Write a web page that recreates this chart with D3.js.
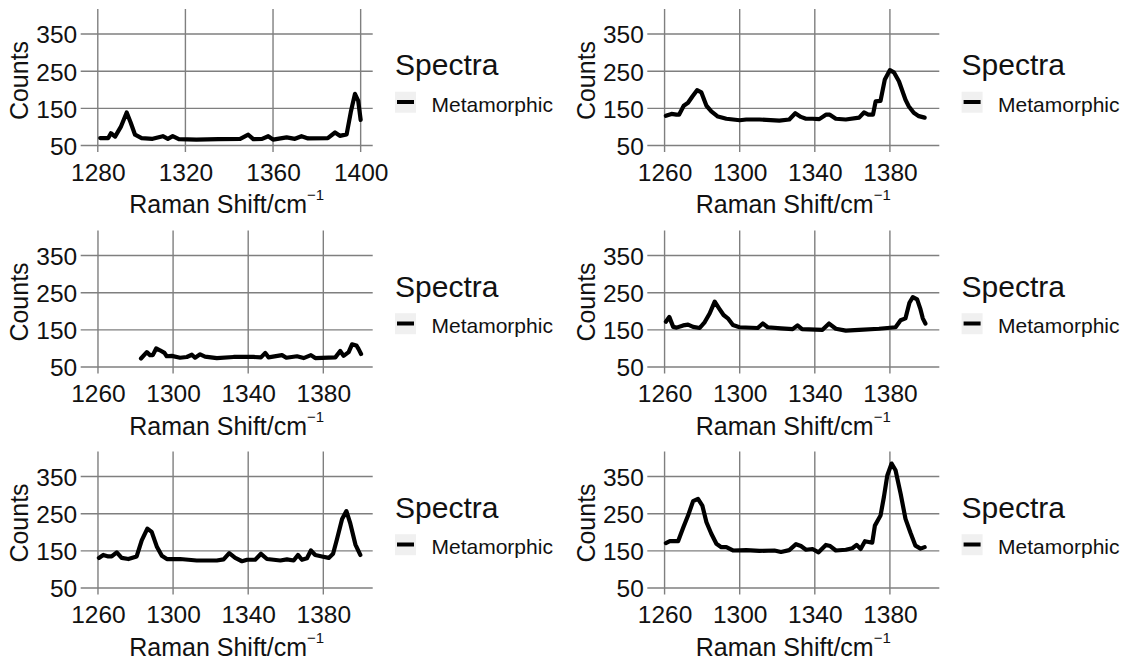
<!DOCTYPE html>
<html>
<head>
<meta charset="utf-8">
<script src="https://cdn.jsdelivr.net/npm/d3@7"></script>
<style>
  html, body { margin: 0; padding: 0; background: #fff; }
  svg { display: block; font-family: "Liberation Sans", Arial, sans-serif; }
</style>
</head>
<body>
<svg id="chart" width="1127" height="659"></svg>
<script>
// Raman spectra, one panel per sample (Raman shift in cm^-1, counts)
const shift1 = [1281.1,1284.8,1286,1287.9,1290.5,1293.2,1295,1297,1300,1305,1309.7,1312,1314.2,1317,1325,1335,1345,1348.7,1351,1355,1357.8,1360,1366.2,1370,1373,1376,1385,1388.3,1390.5,1393.6,1395.5,1397.4,1398.9,1400];
const counts1 = [70,70,83,74,100,139,112,79,70,68,75,68,75,67,66,67,68,79,67,68,75,66,72,68,75,69,70,85,76,80,140,189,170,119];

const shift2 = [1260.7,1263.7,1266.3,1267.7,1270.2,1272.5,1274.8,1277.3,1279.6,1282.3,1284.9,1288.4,1292.9,1300,1303.5,1310.5,1321.1,1326.4,1329.6,1332.6,1335.3,1338.8,1342.4,1345.9,1348,1351.2,1356.5,1363.6,1366.2,1368.5,1371,1372.4,1375,1377.3,1380,1382.1,1384.8,1388.3,1390.1,1392.7,1395.4,1398.5];
const counts2 = [130,135,133,133,157,165,182,199,193,157,142,128,122,118,120,120,117,120,137,127,122,122,121,133,133,122,120,125,139,133,133,169,170,228,253,247,223,173,155,138,129,125];

const shift3 = [1282.9,1286,1287.7,1289.2,1291,1293,1295.4,1296.6,1299.3,1303.7,1307.3,1310,1311.7,1314.4,1317,1323.3,1332.2,1342.8,1346.8,1349.1,1350.8,1358,1360.3,1366,1369.5,1373.4,1375.7,1386.4,1389,1390.8,1393.5,1395.3,1397.6,1398.8,1400.1];
const counts3 = [73,90,82,82,100,95,88,79,80,75,77,83,75,84,78,74,77,77,76,88,76,82,75,79,74,82,74,76,93,80,90,111,108,98,85];

const shift4 = [1260.7,1262.5,1264.6,1266.4,1269.9,1272.5,1275.2,1278.7,1281.4,1284,1286.7,1289,1291.4,1293.7,1296.4,1299.9,1309.6,1312.3,1314.9,1322,1328.2,1330.8,1333.2,1344.1,1347.6,1351.2,1356.5,1363.6,1374.2,1383,1385.7,1388.3,1390.4,1392.2,1394.5,1396.3,1397.5,1398.9];
const counts4 = [172,185,158,156,162,164,158,155,171,194,226,208,190,181,163,157,155,167,157,154,152,162,152,150,167,153,148,150,153,157,176,181,223,238,232,205,181,167];

const shift5 = [1260.5,1262.8,1265.5,1267.3,1270,1272.6,1276.2,1280.6,1283.3,1286.3,1288.6,1291.3,1294,1296.7,1303.7,1312.6,1323.3,1326.9,1329.9,1333.1,1336.7,1339.4,1343.7,1346.8,1350,1357.1,1360.6,1364.2,1366.5,1368.6,1371.3,1373.4,1375.7,1379.3,1382.9,1385.2,1387.3,1390,1392.3,1394.4,1397.1,1399.7];
const counts5 = [131,139,135,135,146,131,128,135,178,210,201,162,137,128,128,124,124,127,144,131,122,126,126,142,128,124,127,124,139,126,130,151,139,135,131,142,182,236,257,223,167,139];

const shift6 = [1260.7,1262.8,1267.2,1269.9,1272.5,1275.2,1277.8,1280.1,1282.3,1284.9,1287.6,1290.2,1292.9,1296.4,1303.5,1310.5,1318.5,1322,1326.4,1330,1332.6,1335.3,1338.8,1342,1345.9,1348.2,1351.2,1356.5,1360,1362.3,1364.4,1366.7,1370.6,1372,1375,1376.8,1378.6,1380.9,1383,1385.7,1388.3,1391,1393.6,1396.3,1398.5];
const counts6 = [171,176,176,212,245,284,290,272,227,196,169,160,160,151,152,150,151,147,152,168,163,153,155,146,166,163,151,153,157,166,155,176,172,218,245,295,353,385,367,304,236,198,164,156,160];

const xTicksFirst = [1280, 1320, 1360, 1400];
const xTicksRest = [1260, 1300, 1340, 1380];
const yTicks = [50, 150, 250, 350];
const legendTitle = "Spectra";
const legendLabel = "Metamorphic";

const panels = [
  { shift: shift1, counts: counts1, xDomain: [1272.2, 1405.5], xTicks: xTicksFirst },
  { shift: shift2, counts: counts2, xDomain: [1250.8, 1406.3], xTicks: xTicksRest },
  { shift: shift3, counts: counts3, xDomain: [1250.8, 1406.3], xTicks: xTicksRest },
  { shift: shift4, counts: counts4, xDomain: [1250.8, 1406.3], xTicks: xTicksRest },
  { shift: shift5, counts: counts5, xDomain: [1250.8, 1406.3], xTicks: xTicksRest },
  { shift: shift6, counts: counts6, xDomain: [1250.8, 1406.3], xTicks: xTicksRest }
];

// layout of the 3 x 2 grid
const colLeft = [80.7, 647.3];
const rowTop = [9, 230.5, 451.5];
const panelW = 292, panelH = 143;
const gridColor = "#7f7f7f";
const textColor = "#111";
const fmt = d3.format("d");

const svg = d3.select("#chart");

panels.forEach((p, i) => {
  const col = i % 2, row = Math.floor(i / 2);
  const left = colLeft[col], top = rowTop[row];
  const g = svg.append("g").attr("transform", `translate(${left},${top})`);

  const x = d3.scaleLinear().domain(p.xDomain).range([0, panelW]);
  const y = d3.scaleLinear().domain([32.5, 417.5]).range([panelH, 0]);

  // major grid
  g.append("g").selectAll("line").data(p.xTicks).join("line")
    .attr("x1", d => x(d)).attr("x2", d => x(d))
    .attr("y1", 0).attr("y2", panelH)
    .attr("stroke", gridColor).attr("stroke-width", 1.4);
  g.append("g").selectAll("line").data(yTicks).join("line")
    .attr("x1", 0).attr("x2", panelW)
    .attr("y1", d => y(d)).attr("y2", d => y(d))
    .attr("stroke", gridColor).attr("stroke-width", 1.4);

  // x axis tick labels
  const xAxis = d3.axisBottom(x).tickValues(p.xTicks).tickFormat(fmt).tickSize(0).tickPadding(0);
  const xa = g.append("g").attr("transform", `translate(0,${panelH})`).call(xAxis);
  xa.select(".domain").remove();
  xa.selectAll("text")
    .attr("y", 28.5).attr("dy", null)
    .attr("font-size", 24.5).attr("fill", textColor)
    .attr("font-family", "Liberation Sans, Arial, sans-serif");

  // y axis tick labels
  const yAxis = d3.axisLeft(y).tickValues(yTicks).tickFormat(fmt).tickSize(0).tickPadding(3.5);
  const ya = g.append("g").call(yAxis);
  ya.select(".domain").remove();
  ya.selectAll("text")
    .attr("dy", "0.36em")
    .attr("font-size", 24.5).attr("fill", textColor)
    .attr("font-family", "Liberation Sans, Arial, sans-serif");

  // spectrum
  const pts = p.shift.map((s, k) => [s, p.counts[k]]);
  g.append("path")
    .attr("d", d3.line().x(d => x(d[0])).y(d => y(d[1]))(pts))
    .attr("fill", "none").attr("stroke", "#000")
    .attr("stroke-width", 4.2)
    .attr("stroke-linejoin", "round").attr("stroke-linecap", "round");

  // axis titles
  const xt = g.append("text")
    .attr("x", panelW / 2).attr("y", 204)
    .attr("text-anchor", "middle")
    .attr("font-size", 25).attr("fill", textColor);
  xt.append("tspan").text("Raman Shift/cm");
  xt.append("tspan").attr("dy", -13).attr("font-size", 15).text("\u22121");

  g.append("text")
    .attr("transform", `translate(-52.4,${panelH / 2}) rotate(-90)`)
    .attr("text-anchor", "middle")
    .attr("font-size", 25).attr("fill", textColor)
    .text("Counts");

  // legend
  const lg = g.append("g").attr("transform", "translate(314.3,0)");
  lg.append("text").attr("x", 0).attr("y", 66)
    .attr("font-size", 30).attr("fill", textColor).text(legendTitle);
  lg.append("rect").attr("x", 0).attr("y", 82.7)
    .attr("width", 21).attr("height", 21).attr("fill", "#f0f0f0");
  lg.append("line").attr("x1", 2).attr("x2", 19)
    .attr("y1", 93).attr("y2", 93)
    .attr("stroke", "#000").attr("stroke-width", 4);
  lg.append("text").attr("x", 36.5).attr("y", 102.7)
    .attr("font-size", 21).attr("fill", textColor).text(legendLabel);
});
</script>
</body>
</html>
